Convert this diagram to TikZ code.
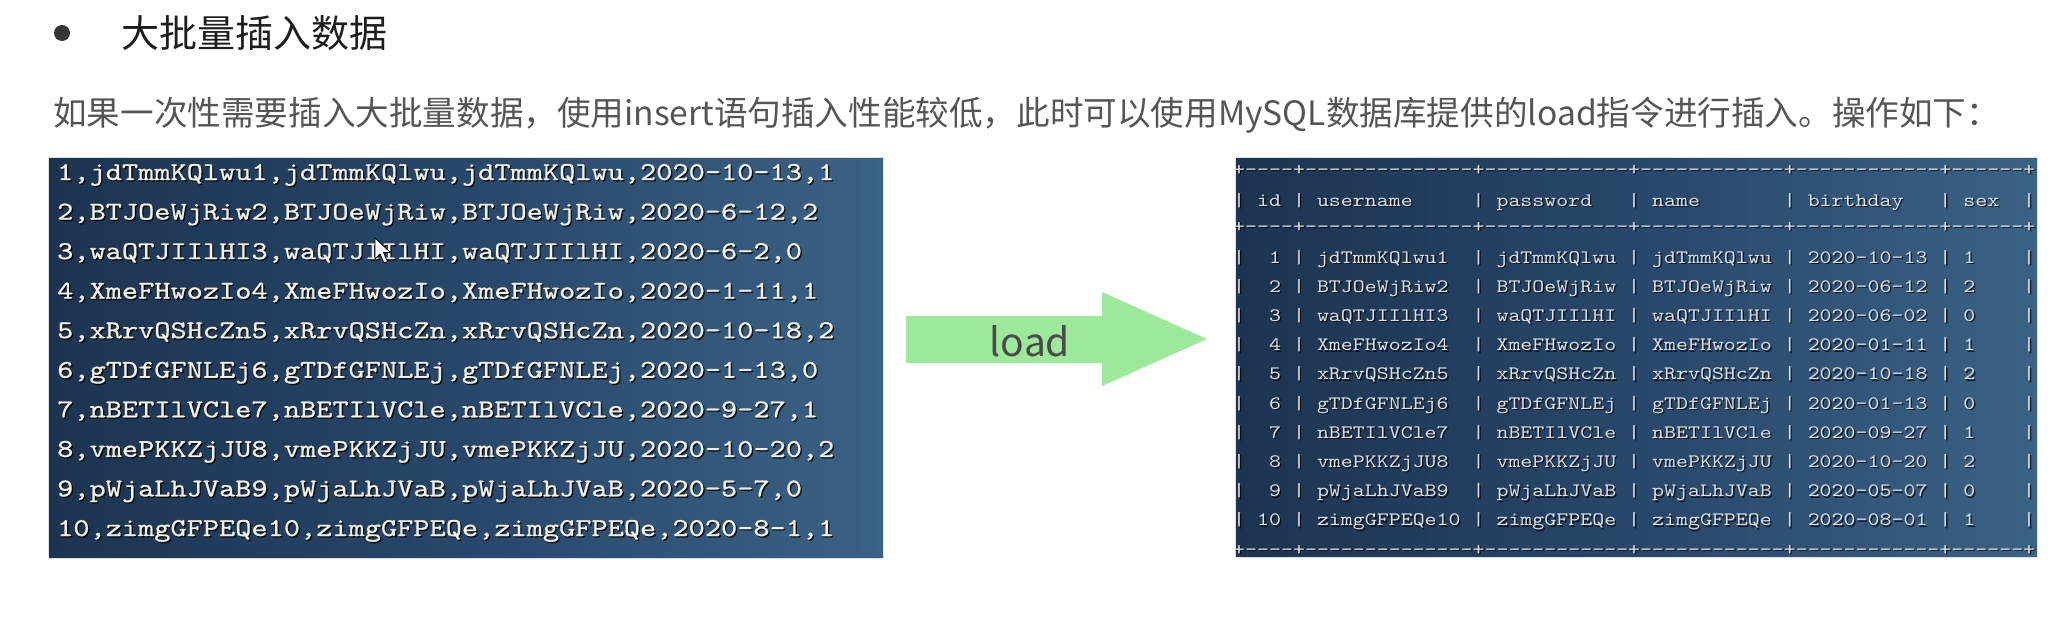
\documentclass[tikz,border=0pt]{standalone}
\usepackage{fontspec}
\setmainfont{Noto Sans CJK SC}
\setmonofont{lmmono10-regular.otf}[FakeStretch=1.2]
\newfontfamily\codefont{lmmono10-regular.otf}[FakeStretch=1.2, FakeBold=0.8, Ligatures=TeXOff]
\definecolor{titlecol}{HTML}{1E1E1E}
\definecolor{subcol}{HTML}{555555}
\definecolor{panelL}{HTML}{1C3450}
\definecolor{panelM}{HTML}{28476A}
\definecolor{panelR}{HTML}{3A6284}
\definecolor{arrowgreen}{HTML}{9DE89B}
\definecolor{loadcol}{HTML}{4A4A4A}
\definecolor{codecol}{HTML}{F3EFE3}
\definecolor{tablecol}{HTML}{DCE0E4}
\tikzset{
  panel/.style={draw=black!12, line width=1pt, left color=panelL, right color=panelR, middle color=panelM},
  codetext/.style={anchor=west, inner sep=0pt, text height=0.6em, text depth=0pt,
    font=\codefont\fontsize{25.7pt}{26pt}\selectfont, text=codecol},
  tabtext/.style={anchor=west, inner sep=0pt, text height=0.6em, text depth=0pt,
    font=\ttfamily\fontsize{19pt}{20pt}\selectfont, text=tablecol},
  shadowed/.style={text=black, opacity=0.7, xshift=1.4pt, yshift=-1.4pt},
}
\newcommand\shline[4]{%
  \node[#1, shadowed] at (#3) {#4};
  \node[#1] (#2) at (#3) {#4};}
\begin{document}
\begin{tikzpicture}[x=1pt,y=-1pt]
\useasboundingbox[fill=white] (0,0) rectangle (2062,642);
% heading
\fill[titlecol!90] (62,33) circle (8);
\node[anchor=west, inner sep=0pt, text=titlecol, font=\fontsize{38pt}{40pt}\selectfont] (title) at (121,33) {大批量插入数据};
\node[anchor=west, inner sep=0pt, text=subcol, font=\fontsize{33.6pt}{35pt}\selectfont] (sub) at (53,115)
  {如果一次性需要插入大批量数据，使用insert语句插入性能较低，此时可以使用MySQL数据库提供的load指令进行插入。操作如下：};
% left panel
\path[panel] (48,157) rectangle (883,558);
\shline{codetext}{l1}{57,177}{1,jdTmmKQlwu1,jdTmmKQlwu,jdTmmKQlwu,2020-10-13,1}
\shline{codetext}{l2}{57,216.6}{2,BTJOeWjRiw2,BTJOeWjRiw,BTJOeWjRiw,2020-6-12,2}
\shline{codetext}{l3}{57,256.1}{3,waQTJIIlHI3,waQTJIIlHI,waQTJIIlHI,2020-6-2,0}
\shline{codetext}{l4}{57,295.7}{4,XmeFHwozIo4,XmeFHwozIo,XmeFHwozIo,2020-1-11,1}
\shline{codetext}{l5}{57,335.2}{5,xRrvQSHcZn5,xRrvQSHcZn,xRrvQSHcZn,2020-10-18,2}
\shline{codetext}{l6}{57,374.8}{6,gTDfGFNLEj6,gTDfGFNLEj,gTDfGFNLEj,2020-1-13,0}
\shline{codetext}{l7}{57,414.3}{7,nBETIlVCle7,nBETIlVCle,nBETIlVCle,2020-9-27,1}
\shline{codetext}{l8}{57,453.9}{8,vmePKKZjJU8,vmePKKZjJU,vmePKKZjJU,2020-10-20,2}
\shline{codetext}{l9}{57,493.4}{9,pWjaLhJVaB9,pWjaLhJVaB,pWjaLhJVaB,2020-5-7,0}
\shline{codetext}{l10}{57,533}{10,zimgGFPEQe10,zimgGFPEQe,zimgGFPEQe,2020-8-1,1}
% mouse cursor
\filldraw[fill=white, draw=black, line width=0.8pt, line join=round]
  (375,238) -- (375,259) -- (380,254) -- (384,263) -- (387.5,261.5) -- (383.5,252.5) -- (390.5,252.5) -- cycle;
% arrow
\fill[arrowgreen] (906,316) -- (1102,316) -- (1102,292) -- (1207,339) -- (1102,386) -- (1102,363) -- (906,363) -- cycle;
\node[inner sep=0pt, text=loadcol, font=\fontsize{39pt}{41pt}\selectfont] (load) at (1030,341) {load};
% right panel
\path[panel] (1235,157) rectangle (2037,557);
\shline{tabtext}{b1}{1233,172}{+----+--------------+------------+------------+------------+------+}
\shline{tabtext}{hd}{1233,203}{|~id~|~username~~~~~|~password~~~|~name~~~~~~~|~birthday~~~|~sex~~|}
\shline{tabtext}{b2}{1233,229}{+----+--------------+------------+------------+------------+------+}
\shline{tabtext}{r1}{1233,260}{|~~1~|~jdTmmKQlwu1~~|~jdTmmKQlwu~|~jdTmmKQlwu~|~2020-10-13~|~1~~~~|}
\shline{tabtext}{r2}{1233,289.2}{|~~2~|~BTJOeWjRiw2~~|~BTJOeWjRiw~|~BTJOeWjRiw~|~2020-06-12~|~2~~~~|}
\shline{tabtext}{r3}{1233,318.4}{|~~3~|~waQTJIIlHI3~~|~waQTJIIlHI~|~waQTJIIlHI~|~2020-06-02~|~0~~~~|}
\shline{tabtext}{r4}{1233,347.6}{|~~4~|~XmeFHwozIo4~~|~XmeFHwozIo~|~XmeFHwozIo~|~2020-01-11~|~1~~~~|}
\shline{tabtext}{r5}{1233,376.8}{|~~5~|~xRrvQSHcZn5~~|~xRrvQSHcZn~|~xRrvQSHcZn~|~2020-10-18~|~2~~~~|}
\shline{tabtext}{r6}{1233,406}{|~~6~|~gTDfGFNLEj6~~|~gTDfGFNLEj~|~gTDfGFNLEj~|~2020-01-13~|~0~~~~|}
\shline{tabtext}{r7}{1233,435.2}{|~~7~|~nBETIlVCle7~~|~nBETIlVCle~|~nBETIlVCle~|~2020-09-27~|~1~~~~|}
\shline{tabtext}{r8}{1233,464.4}{|~~8~|~vmePKKZjJU8~~|~vmePKKZjJU~|~vmePKKZjJU~|~2020-10-20~|~2~~~~|}
\shline{tabtext}{r9}{1233,493.6}{|~~9~|~pWjaLhJVaB9~~|~pWjaLhJVaB~|~pWjaLhJVaB~|~2020-05-07~|~0~~~~|}
\shline{tabtext}{r10}{1233,522.8}{|~10~|~zimgGFPEQe10~|~zimgGFPEQe~|~zimgGFPEQe~|~2020-08-01~|~1~~~~|}
\shline{tabtext}{b3}{1233,552}{+----+--------------+------------+------------+------------+------+}
\end{tikzpicture}
\end{document}
